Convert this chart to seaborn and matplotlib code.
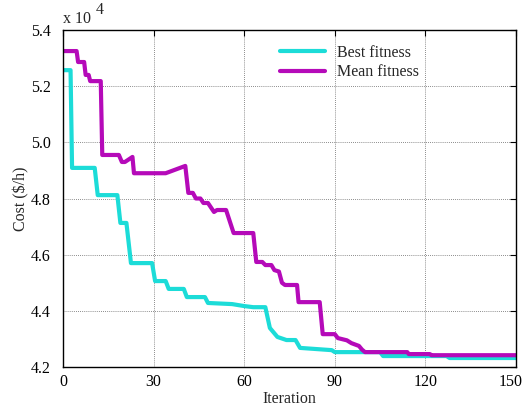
import matplotlib
matplotlib.use("Agg")
import matplotlib.pyplot as plt
import matplotlib.transforms as mtransforms
import seaborn as sns
import pandas as pd

# Data (cost in units of 10^4 $/h)
best_iter = [0, 2.5, 3, 10.5, 11.5, 18, 19, 21, 22.5, 29.5, 30.5, 34, 35, 40, 41, 47, 48, 56, 60, 63, 67,
             68.5, 71, 74, 77, 78.5, 89, 90, 105, 106, 127, 128, 150]
best_cost = [5.257, 5.257, 4.909, 4.909, 4.812, 4.812, 4.713, 4.713, 4.570, 4.570, 4.506, 4.506, 4.478,
             4.478, 4.449, 4.449, 4.428, 4.424, 4.417, 4.413, 4.413, 4.339, 4.307, 4.296, 4.296, 4.268,
             4.260, 4.253, 4.253, 4.239, 4.239, 4.232, 4.232]

mean_iter = [0, 4.5, 5, 7, 7.5, 8.5, 9, 12.5, 13, 18.5, 19.5, 20.5, 23, 23.5, 34, 40.5, 41.5, 43, 44, 45.5,
             46.5, 48, 50, 51, 54, 56.5, 63, 64, 66, 67, 69, 70, 71.5, 72.5, 73.5, 77.5, 78, 85, 86, 90,
             91, 94, 95.5, 98, 99, 100, 114, 114.5, 121.5, 122, 150]
mean_cost = [5.325, 5.325, 5.286, 5.286, 5.240, 5.240, 5.218, 5.218, 4.955, 4.955, 4.930, 4.930, 4.948,
             4.890, 4.890, 4.916, 4.820, 4.820, 4.800, 4.800, 4.784, 4.784, 4.752, 4.759, 4.759, 4.677,
             4.677, 4.574, 4.574, 4.563, 4.563, 4.545, 4.540, 4.500, 4.492, 4.492, 4.431, 4.431, 4.317,
             4.317, 4.303, 4.295, 4.285, 4.275, 4.262, 4.253, 4.253, 4.246, 4.246, 4.242, 4.242]

series_names = ["Best fitness", "Mean fitness"]
x_ticks = [0, 30, 60, 90, 120, 150]
y_ticks = [4.2, 4.4, 4.6, 4.8, 5.0, 5.2, 5.4]

df = pd.concat([
    pd.DataFrame({"Iteration": best_iter, "Cost": best_cost, "Series": series_names[0]}),
    pd.DataFrame({"Iteration": mean_iter, "Cost": mean_cost, "Series": series_names[1]}),
], ignore_index=True)

sns.set_style("white")
plt.rcParams["font.family"] = ["Liberation Serif", "DejaVu Serif"]

FS = 11.5
fig = plt.figure(figsize=(5.24, 4.08), dpi=100)
ax = fig.add_axes([63 / 524, 1 - 367 / 408, (516 - 63) / 524, (367 - 30) / 408])

palette = {"Best fitness": "#1cdcd8", "Mean fitness": "#b50ab9"}
sns.lineplot(data=df, x="Iteration", y="Cost", hue="Series", palette=palette, sort=False,
             estimator=None, linewidth=3.0, ax=ax, legend=True)

ax.set_xlim(0, 150)
ax.set_ylim(4.2, 5.4)
ax.set_xticks(x_ticks)
ax.set_yticks(y_ticks)
ax.set_xticklabels([str(t) for t in x_ticks])
ax.set_yticklabels([f"{t:.1f}" for t in y_ticks])
ax.tick_params(direction="in", top=True, right=True, length=4, width=0.8, labelsize=FS,
               colors="black")
ax.tick_params(axis="y", pad=9)
ax.tick_params(axis="x", pad=5)
# nudge last x tick label left so it stays inside the figure
last = ax.get_xticklabels()[-1]
last.set_transform(last.get_transform() + mtransforms.ScaledTranslation(-5 / 100, 0, fig.dpi_scale_trans))

ax.grid(True, linestyle=(0, (1, 1.5)), color="#666666", linewidth=0.6)
for s in ax.spines.values():
    s.set_visible(True)
    s.set_color("black")
    s.set_linewidth(1.0)

ax.set_xlabel("Iteration", fontsize=FS, labelpad=1)
ax.set_ylabel("Cost ($/h)", fontsize=FS, labelpad=1)

leg = ax.legend(title=None, frameon=False, loc="upper left",
                bbox_to_anchor=((272 - 63) / 453, 1 - (37 - 30) / 337),
                borderpad=0, handlelength=2.8, handletextpad=0.8, labelspacing=0.2, fontsize=FS)
for line in leg.get_lines():
    line.set_linewidth(3.0)

fig.text(63 / 524, 1 - 23 / 408, "x 10", fontsize=FS, ha="left", va="baseline")
fig.text(96 / 524, 1 - 14 / 408, "4", fontsize=FS, ha="left", va="baseline")

fig.savefig("out.png", dpi=100)
